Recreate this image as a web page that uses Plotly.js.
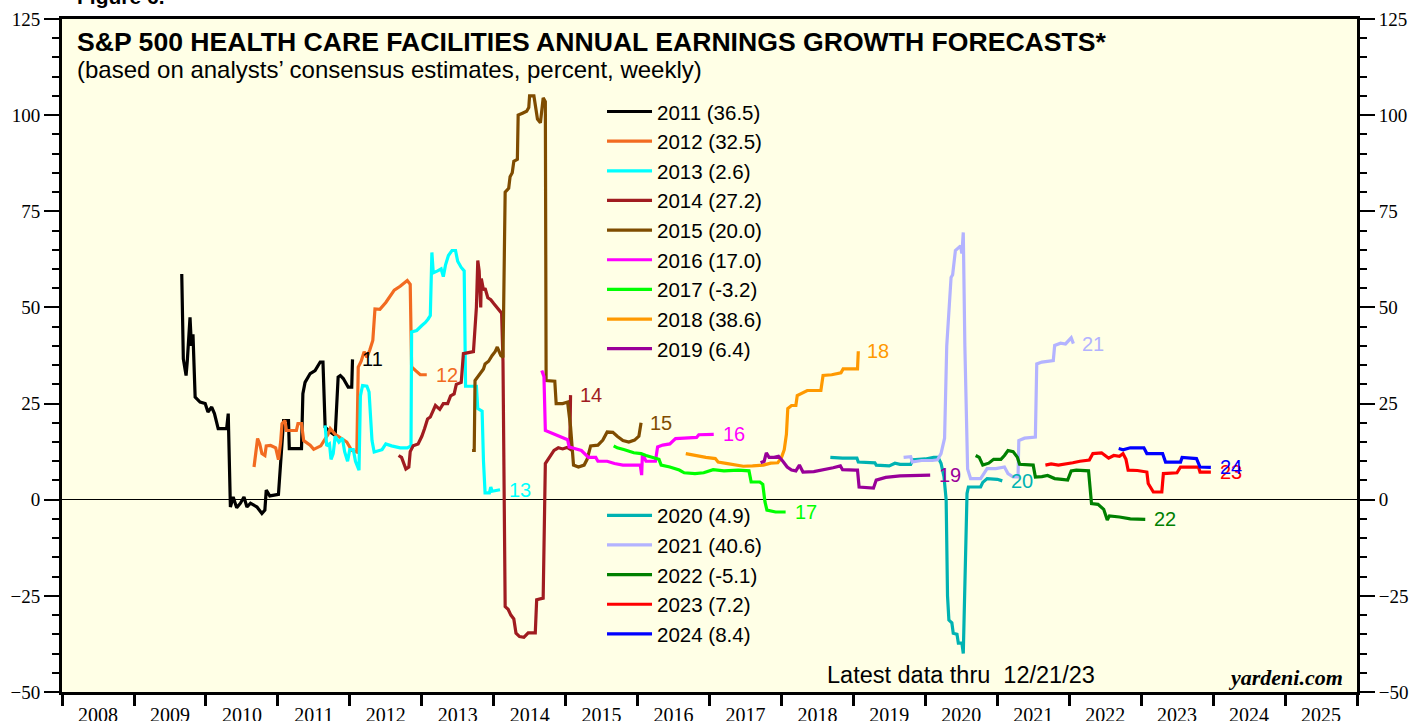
<!DOCTYPE html>
<html>
<head>
<meta charset="utf-8">
<script src="https://cdn.plot.ly/plotly-3.0.1.min.js"></script>
<style>
  html, body { margin: 0; padding: 0; background: #fff; }
  #chart { width: 1412px; height: 721px; }
</style>
</head>
<body>
<div id="chart"></div>
<script>
// forecast years, their colours, and weekly readings as [decimal year, percent]
var forecastYears = [2011, 2012, 2013, 2014, 2015, 2016, 2017, 2018, 2019, 2020, 2021, 2022, 2023, 2024];
var lineColors = ['#000000', '#F26B21', '#00FFFF', '#A01C20', '#7F4C00', '#FF00FF', '#00FF00',
                  '#FF9900', '#990099', '#00B2B2', '#B3B3FF', '#008000', '#FF0000', '#0000FF'];

var s2011 = [[2009.665, 58.7], [2009.687, 36.6], [2009.725, 32.3], [2009.74, 36], [2009.78, 47.4], [2009.80, 40],
  [2009.82, 43], [2009.85, 26.7], [2009.92, 25.4], [2009.99, 25], [2010.03, 22.8], [2010.08, 24.1], [2010.12, 22.4],
  [2010.17, 18.5], [2010.29, 18.5], [2010.31, 22.4], [2010.34, -1.9], [2010.38, 0.7], [2010.43, -2.1], [2010.48, -0.9],
  [2010.53, 0.7], [2010.57, -1.9], [2010.62, -0.9], [2010.71, -1.9], [2010.78, -3.6], [2010.82, -2.7], [2010.84, 2.5],
  [2010.89, 1.0], [2011.01, 1.4], [2011.04, 10], [2011.08, 20.6], [2011.15, 20.6], [2011.16, 13.3], [2011.33, 13.3],
  [2011.35, 27.6], [2011.38, 30.5], [2011.45, 32.8], [2011.52, 33.6], [2011.59, 35.8], [2011.63, 35.8], [2011.66, 18.9],
  [2011.73, 17.6], [2011.80, 16.7], [2011.84, 31.9], [2011.87, 32.3], [2011.91, 31.5], [2011.98, 29.3], [2012.03, 29.3],
  [2012.04, 36.5]];
var s2012 = [[2010.67, 8.5], [2010.72, 15.9], [2010.75, 14.5], [2010.78, 12], [2010.82, 11.5], [2010.84, 14], [2010.90, 14.1],
  [2010.97, 13.5], [2011.01, 10.4], [2011.04, 15], [2011.06, 19.8], [2011.10, 20.6], [2011.12, 18], [2011.26, 18],
  [2011.28, 19.8], [2011.33, 19.8], [2011.36, 15.4], [2011.45, 14.2], [2011.50, 13.1], [2011.60, 14], [2011.70, 17],
  [2011.73, 18.5], [2011.80, 17], [2011.88, 16], [2011.96, 15], [2012.03, 12.8], [2012.10, 12.4], [2012.12, 34.5],
  [2012.16, 36], [2012.20, 38.5], [2012.24, 37], [2012.28, 39], [2012.32, 41.4], [2012.35, 49.6], [2012.42, 49.5],
  [2012.50, 51.3], [2012.55, 52.6], [2012.62, 54.5], [2012.70, 55.5], [2012.80, 57], [2012.84, 56], [2012.86, 34.5],
  [2012.92, 33.5], [2012.98, 32.5], [2013.07, 32.5]];
var s2013 = [[2011.66, 19.3], [2011.68, 14], [2011.72, 14.5], [2011.74, 10.5], [2011.77, 12], [2011.80, 16.5], [2011.85, 15],
  [2011.90, 16], [2011.93, 12.5], [2011.97, 10], [2012.00, 13], [2012.05, 13], [2012.08, 10], [2012.13, 7.7], [2012.15, 27],
  [2012.18, 29.7], [2012.24, 29.5], [2012.27, 28], [2012.31, 15.4], [2012.34, 12.4], [2012.45, 13], [2012.50, 14.5],
  [2012.58, 14], [2012.70, 13.5], [2012.80, 13.5], [2012.85, 14], [2012.86, 43.6], [2012.93, 44], [2013.00, 45.3],
  [2013.05, 46.1], [2013.09, 47], [2013.12, 47.9], [2013.14, 64.3], [2013.16, 59], [2013.22, 59.5], [2013.27, 60],
  [2013.30, 58], [2013.33, 61], [2013.37, 63.5], [2013.42, 64.8], [2013.47, 64.8], [2013.50, 62], [2013.55, 60.4],
  [2013.59, 59.5], [2013.61, 29.5], [2013.76, 29.5], [2013.78, 23.7], [2013.84, 23], [2013.86, 10], [2013.88, 1.8],
  [2013.94, 1.8], [2013.96, 3.3], [2013.98, 2.2], [2014.09, 2.6]];
var s2014 = [[2012.68, 11.5], [2012.72, 11], [2012.78, 8], [2012.82, 8.5], [2012.84, 12.5], [2012.88, 14], [2012.95, 14.5],
  [2013.00, 16.5], [2013.04, 18.5], [2013.08, 21], [2013.12, 21.5], [2013.16, 23.5], [2013.19, 24.5], [2013.25, 23.5],
  [2013.30, 25], [2013.36, 25], [2013.40, 27], [2013.45, 27.5], [2013.48, 30], [2013.55, 30.5], [2013.58, 38],
  [2013.72, 38.5], [2013.76, 50], [2013.78, 62.2], [2013.80, 59.5], [2013.82, 50], [2013.83, 57.5], [2013.86, 54.5],
  [2013.88, 55], [2013.92, 52.5], [2013.96, 52], [2014.00, 51], [2014.06, 49.5], [2014.11, 48.5], [2014.13, 36],
  [2014.16, -27.8], [2014.20, -28.5], [2014.24, -30], [2014.28, -31], [2014.31, -34.7], [2014.36, -35.6], [2014.42, -35.8],
  [2014.48, -34.6], [2014.58, -34.6], [2014.60, -26], [2014.69, -25.6], [2014.72, 9.4], [2014.76, 10.5], [2014.80, 11.5],
  [2014.84, 12.8], [2014.90, 13.5], [2014.96, 13.2], [2015.02, 13.6], [2015.06, 13.2], [2015.07, 27.2]];
var s2015 = [[2013.70, 12.8], [2013.73, 12.8], [2013.74, 31], [2013.78, 32], [2013.82, 33], [2013.86, 34], [2013.88, 35.3],
  [2013.93, 36], [2013.98, 37.5], [2014.02, 38.5], [2014.05, 39.7], [2014.10, 37.5], [2014.13, 37], [2014.16, 80],
  [2014.21, 81], [2014.23, 84], [2014.26, 85], [2014.28, 88], [2014.33, 88.5], [2014.34, 100], [2014.40, 100.5],
  [2014.46, 101], [2014.49, 102], [2014.50, 105], [2014.56, 105], [2014.58, 103], [2014.61, 99], [2014.65, 98],
  [2014.67, 101], [2014.69, 104.5], [2014.72, 103.5], [2014.73, 31], [2014.85, 30.8], [2014.87, 25], [2014.96, 25],
  [2015.03, 25.4], [2015.07, 19], [2015.11, 9], [2015.18, 8.5], [2015.26, 9], [2015.30, 10.5], [2015.35, 14],
  [2015.45, 14.2], [2015.52, 15.5], [2015.58, 17.6], [2015.66, 17.5], [2015.72, 16.5], [2015.80, 15.4], [2015.88, 15],
  [2015.96, 15.5], [2016.02, 16.5], [2016.05, 20.0]];
var s2016 = [[2014.67, 33.6], [2014.70, 32], [2014.72, 18], [2014.78, 17.5], [2014.85, 17], [2014.95, 16.3], [2015.03, 15.6],
  [2015.05, 13.7], [2015.15, 13.2], [2015.22, 12.8], [2015.32, 11], [2015.42, 11], [2015.45, 10], [2015.58, 10],
  [2015.68, 9.4], [2015.80, 9], [2015.95, 9], [2016.04, 9], [2016.06, 6.4], [2016.07, 12], [2016.12, 10], [2016.25, 10],
  [2016.28, 13.7], [2016.35, 14.2], [2016.45, 14.5], [2016.53, 15.9], [2016.65, 16], [2016.82, 16.2], [2016.85, 16.9],
  [2017.06, 17.0]];
var s2017 = [[2015.67, 14], [2015.72, 13.5], [2015.82, 13], [2015.95, 12.2], [2016.05, 12], [2016.12, 11.5], [2016.30, 10.5],
  [2016.33, 9], [2016.45, 8.5], [2016.58, 7.7], [2016.65, 7], [2016.80, 6.8], [2016.92, 7], [2017.05, 7.8], [2017.20, 7.5],
  [2017.40, 7.7], [2017.55, 7.5], [2017.58, 4.6], [2017.70, 4.6], [2017.74, 4], [2017.77, -0.5], [2017.80, -2.7],
  [2017.92, -3.2], [2018.06, -3.2]];
var s2018 = [[2016.67, 12], [2016.80, 11.5], [2016.95, 11], [2017.08, 10.7], [2017.12, 9.8], [2017.25, 9.4], [2017.35, 9],
  [2017.47, 8.7], [2017.60, 8.8], [2017.75, 9], [2017.85, 9.5], [2017.95, 9.6], [2018.00, 11], [2018.04, 13], [2018.07, 17],
  [2018.09, 23.7], [2018.14, 24.5], [2018.20, 24.5], [2018.22, 27.1], [2018.30, 27.8], [2018.36, 28.4], [2018.55, 28.4],
  [2018.58, 32.3], [2018.70, 32.5], [2018.83, 33], [2018.86, 34], [2019.06, 34], [2019.07, 38.6]];
var s2019 = [[2017.71, 9.6], [2017.76, 10], [2017.79, 12.2], [2017.83, 11], [2017.90, 11], [2017.96, 11.3], [2018.02, 10],
  [2018.08, 8.5], [2018.14, 7.7], [2018.20, 7.5], [2018.25, 9], [2018.30, 7.2], [2018.45, 7.3], [2018.60, 7.8],
  [2018.72, 8.3], [2018.82, 8.8], [2018.85, 7.8], [2019.03, 7.7], [2019.06, 7.7], [2019.08, 3.3], [2019.20, 3],
  [2019.28, 3], [2019.32, 5.1], [2019.45, 5.8], [2019.65, 6.2], [2019.85, 6.3], [2020.07, 6.4]];
var s2020 = [[2018.68, 11], [2018.85, 10.8], [2019.05, 10.8], [2019.07, 9.8], [2019.30, 9.6], [2019.32, 9], [2019.50, 8.8],
  [2019.58, 9.5], [2019.65, 9.2], [2019.80, 9.2], [2019.83, 10.4], [2020.00, 10.6], [2020.12, 11], [2020.18, 11],
  [2020.22, 9.5], [2020.26, 6], [2020.29, 0], [2020.31, -25], [2020.33, -31.3], [2020.37, -32], [2020.39, -34.7],
  [2020.44, -35], [2020.46, -37.3], [2020.51, -37.3], [2020.53, -40], [2020.56, -15], [2020.58, 1.6], [2020.60, 3.3],
  [2020.77, 3.3], [2020.80, 4.5], [2020.86, 5.5], [2021.00, 5.3], [2021.07, 4.9]];
var s2021 = [[2019.70, 11], [2019.80, 11.2], [2019.82, 9.8], [2019.95, 10.2], [2020.10, 10.2], [2020.17, 10.4], [2020.22, 12],
  [2020.27, 16], [2020.30, 40], [2020.32, 46.6], [2020.34, 55], [2020.36, 57.8], [2020.38, 58.5], [2020.42, 64.8],
  [2020.46, 65.5], [2020.49, 66], [2020.51, 64], [2020.53, 69.5], [2020.55, 40], [2020.59, 8], [2020.63, 5.5],
  [2020.77, 5.5], [2020.82, 7], [2020.86, 8.1], [2020.98, 8.1], [2021.10, 8.5], [2021.15, 6.8], [2021.22, 5.9],
  [2021.29, 5.9], [2021.30, 15.4], [2021.38, 16], [2021.53, 16.3], [2021.55, 35.3], [2021.62, 35.8], [2021.78, 36.2],
  [2021.80, 40.1], [2021.88, 40.7], [2021.95, 40.5], [2022.03, 42.1], [2022.06, 40.6]];
var s2022 = [[2020.70, 11.5], [2020.75, 11], [2020.80, 9], [2020.88, 9.5], [2020.95, 10.5], [2021.05, 10.5], [2021.10, 11.5],
  [2021.15, 12.8], [2021.22, 12.5], [2021.28, 11], [2021.31, 9.2], [2021.50, 9], [2021.53, 5.9], [2021.62, 6],
  [2021.70, 6.3], [2021.80, 5.5], [2021.90, 5.3], [2021.98, 5.1], [2022.03, 7.5], [2022.10, 7.7], [2022.27, 7.5],
  [2022.31, -1], [2022.40, -1.2], [2022.48, -2.5], [2022.53, -5.3], [2022.56, -4.2], [2022.70, -4.5], [2022.85, -5],
  [2023.06, -5.1]];
var s2023 = [[2021.67, 9], [2021.75, 9.3], [2021.85, 9], [2021.95, 9.2], [2022.05, 9.6], [2022.15, 10], [2022.28, 10.3],
  [2022.33, 12], [2022.45, 12.2], [2022.50, 11.5], [2022.55, 10.8], [2022.62, 11.5], [2022.70, 11.3], [2022.75, 12],
  [2022.79, 10.5], [2022.82, 7.7], [2022.95, 7.6], [2023.08, 7.2], [2023.10, 4.2], [2023.17, 2], [2023.29, 2],
  [2023.31, 6.8], [2023.50, 7], [2023.55, 8.5], [2023.80, 8.5], [2023.82, 7.2], [2023.97, 7.2]];
var s2024 = [[2022.69, 13.3], [2022.75, 13], [2022.85, 13.5], [2023.04, 13.5], [2023.08, 12], [2023.30, 12], [2023.34, 9.8],
  [2023.55, 9.8], [2023.57, 11], [2023.77, 10.7], [2023.82, 8.5], [2023.97, 8.4]];

var allSeries = [s2011, s2012, s2013, s2014, s2015, s2016, s2017, s2018, s2019, s2020, s2021, s2022, s2023, s2024];

var sans = 'Liberation Sans, Arial, sans-serif';
var serif = 'Liberation Serif, Times New Roman, serif';

function toDate(t) {
    let yr = Math.floor(t);
    let a = Date.UTC(yr, 0, 1);
    let b = Date.UTC(yr + 1, 0, 1);
    return new Date(a + (t - yr) * (b - a)).toISOString().slice(0, 10);
}

var data = [];
var labels = [];
for (let i = 0; i < allSeries.length; i++) {
    let pts = allSeries[i];
    let last = pts[pts.length - 1];
    data.push({
        x: pts.map(p => toDate(p[0])),
        y: pts.map(p => p[1]),
        type: 'scatter',
        mode: 'lines',
        line: {color: lineColors[i], width: 3.2},
        name: forecastYears[i] + ' (' + last[1].toFixed(1) + ')',
        legend: forecastYears[i] < 2020 ? 'legend' : 'legend2',
        legendgroup: 'g' + forecastYears[i],
        hoverinfo: 'skip'
    });
    labels.push({
        x: toDate(last[0]), y: last[1], xref: 'x', yref: 'y',
        text: String(forecastYears[i]).slice(2),
        showarrow: false, xanchor: 'left', yanchor: 'middle', xshift: 7,
        font: {family: sans, size: 20, color: lineColors[i]}
    });
}
// empty trace so the right-hand axis is drawn
data.push({x: [], y: [], yaxis: 'y2', showlegend: false, type: 'scatter'});

var notes = [
    {text: '<b>Figure 6.</b>', x: 0.01, y: 1.034, font: {family: sans, size: 21}},
    {text: '<b>S&P 500 HEALTH CARE FACILITIES ANNUAL EARNINGS GROWTH FORECASTS*</b>', x: 0.01, y: 0.966,
     font: {family: sans, size: 26.6}},
    {text: '(based on analysts\u2019 consensus estimates, percent, weekly)', x: 0.01, y: 0.925,
     font: {family: sans, size: 24}},
    {text: 'Latest data thru  12/21/23', x: 0.589, y: 0.025, font: {family: sans, size: 23.5}},
    {text: '<b><i>yardeni.com</i></b>', x: 0.991, y: 0.021, xanchor: 'right', font: {family: serif, size: 22}}
].map(n => Object.assign({xref: 'paper', yref: 'paper', xanchor: 'left', yanchor: 'middle', showarrow: false}, n));

var yAxisBase = {
    range: [-50, 125], tick0: 0, dtick: 25,
    ticks: 'outside', ticklen: 15, tickwidth: 2, tickcolor: 'black',
    minor: {dtick: 5, ticks: 'outside', ticklen: 7, tickwidth: 2, tickcolor: 'black', showgrid: false},
    showline: true, linewidth: 3, linecolor: 'black',
    showgrid: false, fixedrange: true,
    tickfont: {family: serif, size: 19, color: 'black'}
};

var legendBase = {
    xanchor: 'left', yanchor: 'top', bgcolor: 'rgba(0,0,0,0)', borderwidth: 0,
    font: {family: sans, size: 20.5, color: 'black'}, traceorder: 'grouped', tracegroupgap: 0, itemwidth: 45
};

var layout = {
    width: 1412, height: 721,
    margin: {l: 62, r: 55, t: 19, b: 29},
    paper_bgcolor: 'white',
    plot_bgcolor: '#FFFFE6',
    font: {family: sans, size: 19, color: 'black'},
    showlegend: true,
    xaxis: {
        type: 'date', range: ['2008-01-01', '2026-01-01'],
        tick0: '2008-01-01', dtick: 'M12', tickformat: '%Y', ticklabelmode: 'period',
        ticks: 'outside', ticklen: 11, tickwidth: 3, tickcolor: 'black', ticklabelstandoff: -8,
        showline: true, linewidth: 3, linecolor: 'black', mirror: true,
        showgrid: false, zeroline: false, fixedrange: true,
        tickfont: {family: serif, size: 20, color: 'black'}
    },
    yaxis: Object.assign({}, yAxisBase, {zeroline: true, zerolinecolor: 'black', zerolinewidth: 1}),
    yaxis2: Object.assign({}, yAxisBase, {overlaying: 'y', side: 'right', zeroline: false}),
    legend: Object.assign({}, legendBase, {x: 0.417, y: 0.892}),
    legend2: Object.assign({}, legendBase, {x: 0.417, y: 0.292}),
    annotations: notes.concat(labels)
};

Plotly.newPlot('chart', data, layout, {displayModeBar: false, staticPlot: true});
</script>
</body>
</html>
